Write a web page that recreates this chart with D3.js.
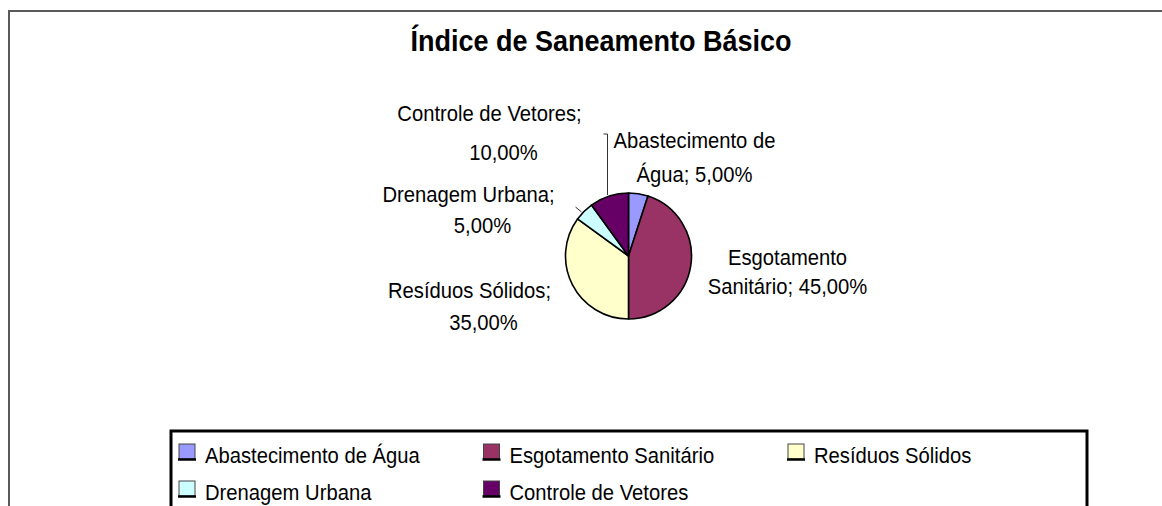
<!DOCTYPE html>
<html>
<head>
<meta charset="utf-8">
<script src="https://cdn.jsdelivr.net/npm/d3@7"></script>
<style>
  body { margin: 0; background: #fff; }
  svg { display: block; font-family: "Liberation Sans", Arial, sans-serif; }
</style>
</head>
<body>
<svg id="chart" width="1162" height="506"></svg>
<script>
// data
var categories = ["Abastecimento de Água", "Esgotamento Sanitário", "Resíduos Sólidos", "Drenagem Urbana", "Controle de Vetores"];
var values = [5, 45, 35, 5, 10];
var colors = ["#9999ff", "#993366", "#ffffcc", "#ccffff", "#660066"];
var titleText = "Índice de Saneamento Básico";

// label lines as drawn by the original (two lines each)
var labelLines = [
  ["Abastecimento de", "Água; 5,00%"],
  ["Esgotamento", "Sanitário; 45,00%"],
  ["Resíduos Sólidos;", "35,00%"],
  ["Drenagem Urbana;", "5,00%"],
  ["Controle de Vetores;", "10,00%"]
];
// label placement relative to pie centre: [dx line1, dy line1, dx line2, dy line2]
var labelOffsets = [
  [66, -108, 66, -74],
  [159, 9, 159, 38],
  [-159, 42, -145, 74],
  [-160, -54, -146, -23],
  [-139, -135, -125, -96]
];

var svg = d3.select("#chart");
var cx = 628.5, cy = 256, r = 63;
var squeeze = 0.92; // the original's text is a little condensed

// outer chart border
svg.append("rect")
  .attr("x", 9).attr("y", 11)
  .attr("width", 1170).attr("height", 520)
  .attr("fill", "none")
  .attr("stroke", "#5a5a5a")
  .attr("stroke-width", 2);

// title
svg.append("text")
  .attr("transform", "translate(601,51) scale(0.9,1)")
  .attr("text-anchor", "middle")
  .attr("font-size", 30)
  .attr("font-weight", "bold")
  .attr("fill", "#000")
  .text(titleText);

var data = categories.map(function(c, i) {
  return { name: c, value: values[i], color: colors[i], lines: labelLines[i], off: labelOffsets[i] };
});

var pie = d3.pie().sort(null).value(function(d) { return d.value; });
var arc = d3.arc().innerRadius(0).outerRadius(r);

var g = svg.append("g").attr("transform", "translate(" + cx + "," + cy + ")");
g.selectAll("path")
  .data(pie(data))
  .enter().append("path")
  .attr("d", arc)
  .attr("fill", function(d) { return d.data.color; })
  .attr("stroke", "#000")
  .attr("stroke-width", 1.6)
  .attr("stroke-linejoin", "round");

// leader lines
g.append("path")
  .attr("d", "M" + (-25) + "," + (-122) + "H" + (-21) + "V" + (-61))
  .attr("fill", "none").attr("stroke", "#333").attr("stroke-width", 1);
g.append("path")
  .attr("d", "M" + (-53) + "," + (-49) + "L" + (-47) + "," + (-44))
  .attr("fill", "none").attr("stroke", "#333").attr("stroke-width", 1);

// data labels
function label(x, y, txt) {
  g.append("text")
    .attr("transform", "translate(" + x + "," + y + ") scale(" + squeeze + ",1)")
    .attr("text-anchor", "middle")
    .attr("font-size", 22)
    .attr("fill", "#000")
    .text(txt);
}
data.forEach(function(d) {
  label(d.off[0], d.off[1], d.lines[0]);
  label(d.off[2], d.off[3], d.lines[1]);
});

// legend
svg.append("rect")
  .attr("x", 171).attr("y", 431)
  .attr("width", 916).attr("height", 120)
  .attr("fill", "none")
  .attr("stroke", "#000")
  .attr("stroke-width", 3);

var legend = svg.selectAll(".leg")
  .data(data)
  .enter().append("g")
  .attr("class", "leg")
  .attr("transform", function(d, i) {
    var col = i % 3, row = Math.floor(i / 3);
    return "translate(" + (179 + col * 304.5) + "," + (444 + row * 37) + ")";
  });
legend.append("rect")
  .attr("width", 16).attr("height", 15)
  .attr("fill", function(d) { return d.color; })
  .attr("stroke", "#444").attr("stroke-width", 1);
legend.append("line")
  .attr("x1", -1).attr("x2", 17).attr("y1", 15.5).attr("y2", 15.5)
  .attr("stroke", "#000").attr("stroke-width", 2.5);
legend.append("text")
  .attr("transform", "translate(26,19) scale(" + squeeze + ",1)")
  .attr("font-size", 22)
  .attr("fill", "#000")
  .text(function(d) { return d.name; });
</script>
</body>
</html>
